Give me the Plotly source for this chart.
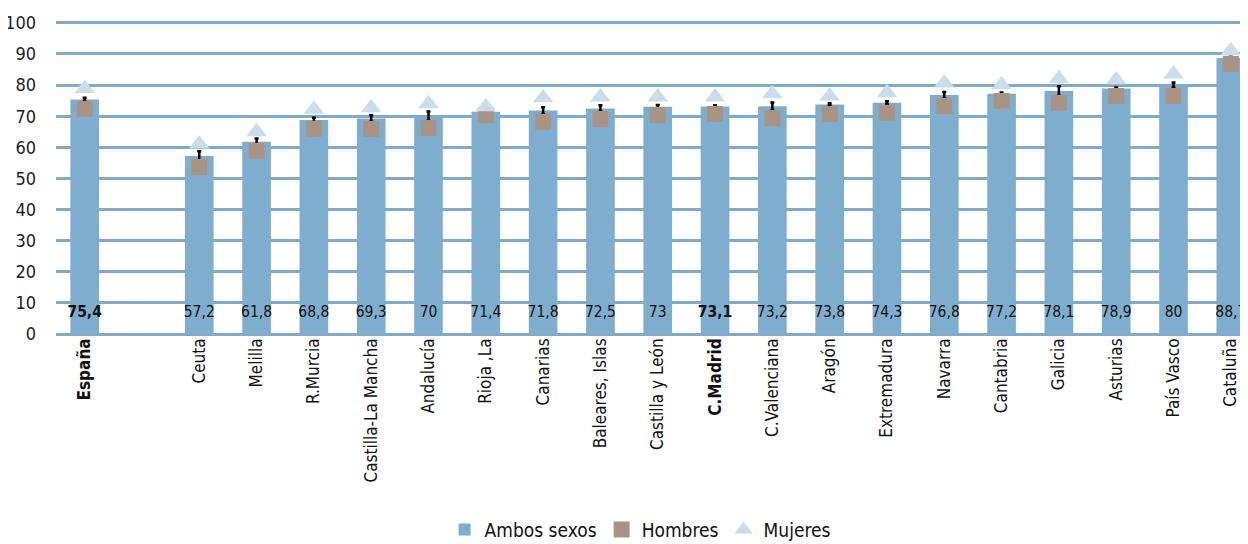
import plotly.graph_objects as go

# Comunidades (orden del gráfico); hueco en blanco tras España
regiones = ["<b>España</b>", " ", "Ceuta", "Melilla", "R.Murcia", "Castilla-La Mancha",
            "Andalucía", "Rioja ,La", "Canarias", "Baleares, Islas", "Castilla y León",
            "<b>C.Madrid</b>", "C.Valenciana", "Aragón", "Extremadura", "Navarra",
            "Cantabria", "Galicia", "Asturias", "País Vasco", "Cataluña"]

ambos = [75.4, None, 57.2, 61.8, 68.8, 69.3, 70, 71.4, 71.8, 72.5, 73,
         73.1, 73.2, 73.8, 74.3, 76.8, 77.2, 78.1, 78.9, 80, 88.7]
hombres = [72.4, None, 53.7, 58.9, 66.0, 65.9, 66.2, 70.4, 68.2, 69.1, 70.4,
           70.7, 69.4, 70.7, 71.1, 73.3, 74.9, 74.3, 76.5, 76.5, 86.8]
mujeres = [78.9, None, 61.1, 65.0, 72.2, 72.7, 74.0, 73.0, 75.9, 76.2, 76.2,
           76.2, 77.2, 76.5, 77.5, 80.7, 80.1, 82.0, 81.7, 83.6, 91.0]
# intervalo (semiamplitud) de "Ambos sexos"
error_ambos = [0.5, None, 1.5, 1.0, 0.7, 1.0, 1.5, 0.8, 1.1, 1.0, 0.6,
               0.4, 1.2, 0.4, 0.5, 1.0, 0.4, 1.5, 0.3, 0.8, 0.4]

FONT = "Liberation Sans Narrow, Arial Narrow, DejaVu Sans Condensed, sans-serif"


def etiqueta(v, cat):
    if v is None:
        return ""
    s = f"{v:g}".replace(".", ",")
    return f"<b>{s}</b>" if cat.startswith("<b>") else s


fig = go.Figure()

fig.add_trace(go.Bar(
    x=regiones, y=ambos, name="Ambos sexos",
    marker=dict(color="#7FADCD", line_width=0),
    error_y=dict(type="data", array=error_ambos, color="black", thickness=2.5, width=2),
))

fig.add_trace(go.Scatter(
    x=regiones, y=hombres, name="Hombres", mode="markers",
    marker=dict(symbol="square", size=16, color="#A89484"),
))

fig.add_trace(go.Scatter(
    x=regiones, y=mujeres, name="Mujeres", mode="markers",
    marker=dict(symbol="triangle-up", size=18, color="#C9DDEA"),
))

# etiquetas de valor dentro de las barras
fig.add_trace(go.Scatter(
    x=regiones, y=[6.8 if v is not None else None for v in ambos],
    text=[etiqueta(v, c) for v, c in zip(ambos, regiones)],
    mode="text", textfont=dict(size=15.5, color="#111", family=FONT),
    showlegend=False, hoverinfo="skip", cliponaxis=False,
))

# la página html añade 8 px de margen: figura de 1240x536
fig.update_layout(
    width=1240, height=536,
    margin=dict(l=48, r=0, t=13, b=210, autoexpand=False),
    plot_bgcolor="white", paper_bgcolor="white",
    font=dict(family=FONT, color="#222"),
    bargap=0.5,
    legend=dict(orientation="h", x=0.49, xanchor="center", y=-0.625, yanchor="middle",
                font=dict(size=19, color="#111"), itemwidth=30, tracegroupgap=0),
)

fig.update_xaxes(
    type="category", range=[-0.5, 20.3], tickangle=-90, automargin=False,
    tickfont=dict(size=17, color="#111"), showgrid=False, ticks="",
    showline=False, zeroline=False,
)
fig.update_yaxes(
    range=[0, 100.6], dtick=10, automargin=False, tickfont=dict(size=18, color="#222"),
    showgrid=True, gridcolor="#7FAACB", gridwidth=2.5,
    zeroline=True, zerolinecolor="#7FAACB", zerolinewidth=2.5,
    ticklabelstandoff=19,
)

fig.write_html("out.html")
